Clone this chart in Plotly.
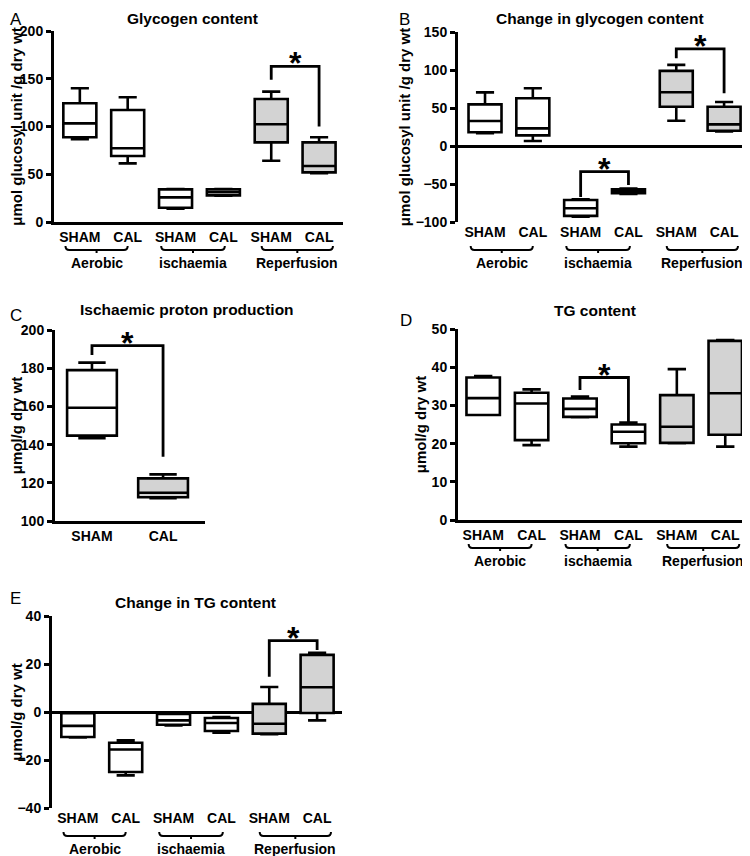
import plotly.graph_objects as go

# The page adds an 8px body margin, so the figure is laid out in screen pixels
# and shifted by OFF to land where the reference shows it.
OFF = 8
W, H = 750 - OFF, 856 - OFF
FONT = "Liberation Sans, Arial, sans-serif"
GRAY = "#d3d3d3"

# ---------------- data ----------------
categories = ["SHAM", "CAL", "SHAM", "CAL", "SHAM", "CAL"]
groups = ["Aerobic", "ischaemia", "Reperfusion"]
C_categories = ["SHAM", "CAL"]

# A: Glycogen content
A_low  = [86.6, 61.4, 14.0, 27.5, 64.2, 51.0]
A_q1   = [88.7, 69.1, 15.0, 27.9, 83.4, 52.0]
A_med  = [103.3, 77.2, 25.8, 31.1, 102.3, 58.6]
A_q3   = [124.3, 117.3, 34.2, 34.2, 128.8, 83.4]
A_high = [140.0, 130.6, 34.5, 34.5, 136.5, 88.7]
A_brackets = [[4, 5, 149.0, 163.0, 100.0]]

# B: Change in glycogen content
B_low  = [16.7, 6.5, -93.0, -63.0, 33.2, 19.3]
B_q1   = [18.0, 14.0, -92.0, -62.0, 51.7, 20.1]
B_med  = [32.9, 23.2, -82.0, -60.0, 70.7, 28.5]
B_q3   = [54.8, 62.8, -71.0, -57.0, 98.8, 51.7]
B_high = [70.6, 76.0, -70.0, -56.0, 106.7, 57.9]
B_brackets = [[2, 3, -67.0, -33.8, -51.3], [4, 5, 115.6, 127.8, 69.4]]

# C: Ischaemic proton production
C_low  = [143.3, 111.9]
C_q1   = [144.7, 112.4]
C_med  = [159.3, 114.8]
C_q3   = [179.0, 122.3]
C_high = [182.9, 124.4]
C_brackets = [[0, 1, 186.9, 191.8, 133.7]]

# D: TG content
D_low  = [27.5, 19.6, 26.9, 19.2, 20.1, 19.2]
D_q1   = [27.5, 20.9, 27.0, 20.1, 20.2, 22.3]
D_med  = [31.9, 30.5, 29.1, 23.1, 24.4, 33.2]
D_q3   = [37.3, 33.3, 31.8, 25.0, 32.7, 46.9]
D_high = [37.7, 34.2, 32.3, 25.5, 39.5, 47.1]
D_brackets = [[2, 3, 34.0, 37.3, 25.3]]

# E: Change in TG content
E_low  = [-10.6, -26.4, -5.6, -8.6, -9.3, -3.5]
E_q1   = [-10.4, -25.0, -5.3, -7.9, -9.0, -0.4]
E_med  = [-5.8, -15.6, -3.5, -4.6, -4.9, 10.3]
E_q3   = [-0.5, -12.8, -0.8, -2.5, 3.4, 23.8]
E_high = [-0.3, -11.8, -0.5, -2.1, 10.4, 24.7]
E_brackets = [[4, 5, 14.7, 29.7, 25.8]]

# ---------------- layout / style ----------------
six_fill = ["white", "white", "white", "white", GRAY, GRAY]
brace_rel = [(-0.3, 1.0), (-0.3, 1.03), (-0.2, 1.29)]


def fx(sx):
    return max(0.0, (sx - OFF) / W)


def fy(sy):
    return min(1.0, 1 - (sy - OFF) / H)


panels = [
    dict(letter="A", title="Glycogen content", ytitle="μmol glucosyl unit /g dry wt", yts=15,
         stats=(A_low, A_q1, A_med, A_q3, A_high), cats=categories, fill=six_fill,
         brackets=A_brackets, xpx=(54, 343), ypx=(31, 222), xr=(-0.54, 5.5),
         yr=(0, 200), dtick=50, zero=False, title_xy=(192, 7), letter_xy=(1, 3), bw=0.69),
    dict(letter="B", title="Change in glycogen content", ytitle="μmol glucosyl unit /g dry wt", yts=15,
         stats=(B_low, B_q1, B_med, B_q3, B_high), cats=categories, fill=six_fill,
         brackets=B_brackets, xpx=(458, 748), ypx=(32, 222), xr=(-0.565, 5.5),
         yr=(-100, 150), dtick=50, zero=True, title_xy=(600, 7), letter_xy=(397, 4), bw=0.69),
    dict(letter="C", title="Ischaemic proton production", ytitle="μmol/g dry wt", yts=15,
         stats=(C_low, C_q1, C_med, C_q3, C_high), cats=C_categories, fill=["white", GRAY],
         brackets=C_brackets, xpx=(55, 205), ypx=(330, 521), xr=(-0.52, 1.59),
         yr=(100, 200), dtick=20, zero=False, title_xy=(187, 309), letter_xy=(1, 304), bw=0.70),
    dict(letter="D", title="TG content", ytitle="μmol/g dry wt", yts=15,
         stats=(D_low, D_q1, D_med, D_q3, D_high), cats=categories, fill=six_fill,
         brackets=D_brackets, xpx=(458, 748), ypx=(329, 520), xr=(-0.52, 5.47),
         yr=(0, 50), dtick=10, zero=False, title_xy=(595, 310), letter_xy=(398, 309), bw=0.69),
    dict(letter="E", title="Change in TG content", ytitle="μmol/g dry wt", yts=15,
         stats=(E_low, E_q1, E_med, E_q3, E_high), cats=categories, fill=six_fill,
         brackets=E_brackets, xpx=(52, 342), ypx=(616, 808), xr=(-0.54, 5.52),
         yr=(-40, 40), dtick=20, zero=True, title_xy=(196, 602), letter_xy=(1, 587), bw=0.69),
]

fig = go.Figure()
layout = dict(
    width=W, height=H, margin=dict(l=0, r=0, t=0, b=0, pad=0, autoexpand=False),
    paper_bgcolor="white", plot_bgcolor="white", showlegend=False,
    boxmode="overlay", font=dict(family=FONT, color="black"),
)
shapes, annotations = [], []
bold = lambda s: dict(family=FONT, size=s, color="black", weight="bold")

for k, p in enumerate(panels):
    suf = "" if k == 0 else str(k + 1)
    xn, yn = "x" + suf, "y" + suf
    low, q1, med, q3, high = p["stats"]
    n = len(p["cats"])
    for i in range(n):
        fig.add_trace(go.Box(
            x=[i], lowerfence=[low[i]], q1=[q1[i]], median=[med[i]], q3=[q3[i]],
            upperfence=[high[i]], width=p["bw"], whiskerwidth=0.55,
            fillcolor=p["fill"][i], line=dict(color="black", width=2.6),
            boxpoints=False, hoverinfo="skip", xaxis=xn, yaxis=yn, showlegend=False))
    x0, x1 = p["xpx"]
    ytop, ybot = p["ypx"]
    layout["xaxis" + suf] = dict(
        domain=[fx(x0), fx(x1)], anchor=yn, range=list(p["xr"]), automargin=False,
        tickmode="array", tickvals=list(range(n)), ticktext=p["cats"],
        showline=not p["zero"], linewidth=3, linecolor="black", ticks="",
        showgrid=False, zeroline=False, tickfont=bold(14), ticklabelstandoff=0,
        fixedrange=True)
    layout["yaxis" + suf] = dict(
        domain=[fy(ybot), fy(ytop)], anchor=xn, range=list(p["yr"]),
        automargin=False,
        tick0=p["yr"][0], dtick=p["dtick"], showline=True, linewidth=3,
        linecolor="black", ticks="outside", ticklen=5, tickwidth=3, tickcolor="black",
        showgrid=False, zeroline=p["zero"], zerolinewidth=3, zerolinecolor="black",
        layer="above traces", tickfont=bold(14),
        title=dict(text=p["ytitle"], font=bold(p["yts"]), standoff=2), fixedrange=True)

    # significance brackets + stars
    for (a, b, yl, yt, yr_) in p["brackets"]:
        shapes.append(dict(type="path", xref=xn, yref=yn,
                           path=f"M {a},{yl} L {a},{yt} L {b},{yt} L {b},{yr_}",
                           line=dict(color="black", width=2.8)))
        annotations.append(dict(x=(a + b) / 2, y=yt, xref=xn, yref=yn, text="*",
                                showarrow=False, yanchor="middle", xanchor="center",
                                yshift=3, font=bold(32)))

    # group braces and labels
    if n == 6:
        yb = fy(ybot + 28)
        u = 4 / H
        d = 3 / H
        for g, name in enumerate(groups):
            ra, rb = brace_rel[g]
            ga, gb = 2 * g + ra, 2 * g + rb
            gm = (ga + gb) / 2
            c = 0.08
            path = (f"M {ga},{yb + u} Q {ga},{yb} {ga + c},{yb} L {gb - c},{yb} "
                    f"Q {gb},{yb} {gb},{yb + u} M {gm},{yb} L {gm},{yb - d}")
            shapes.append(dict(type="path", xref=xn, yref="paper", path=path,
                               line=dict(color="black", width=2)))
            annotations.append(dict(x=gm, y=fy(ybot + 41), xref=xn, yref="paper",
                                    text=name, showarrow=False, xanchor="center",
                                    yanchor="middle", font=bold(14)))

    # panel title and letter
    tx, ty = p["title_xy"]
    t_anchor = "top" if ty - OFF < 10 else "middle"
    annotations.append(dict(x=fx(tx), y=fy(ty) if t_anchor == "middle" else 1.0,
                            xref="paper", yref="paper",
                            text=p["title"], showarrow=False, xanchor="center",
                            yanchor=t_anchor, font=bold(15.5)))
    lx, ly = p["letter_xy"]
    annotations.append(dict(x=fx(lx), y=fy(ly), xref="paper", yref="paper",
                            text=p["letter"], showarrow=False, xanchor="left",
                            yanchor="top",
                            font=dict(family=FONT, size=17, color="black")))

layout["shapes"] = shapes
layout["annotations"] = annotations
fig.update_layout(**layout)
fig.write_html("out.html")
